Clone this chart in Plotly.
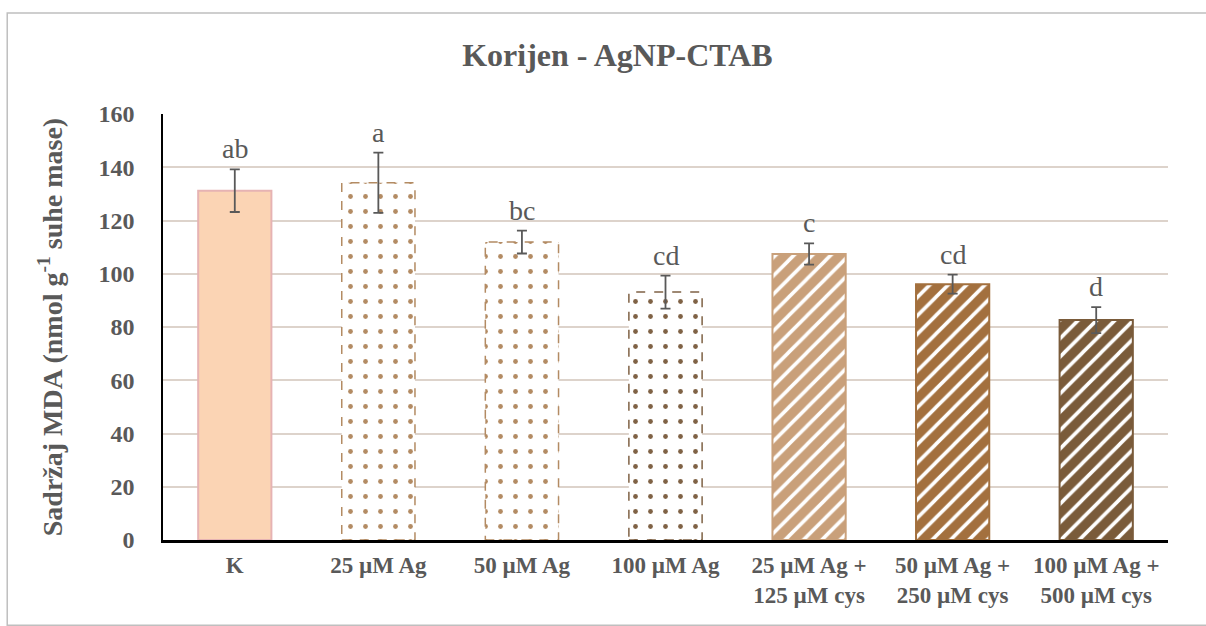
import plotly.graph_objects as go

categories = ["K", "25 µM Ag", "50 µM Ag", "100 µM Ag",
              "25 µM Ag +<br>125 µM cys", "50 µM Ag +<br>250 µM cys", "100 µM Ag +<br>500 µM cys"]
values = [131.2, 134.2, 111.9, 93.1, 107.4, 96.1, 82.6]
errors = [8.0, 11.3, 4.3, 6.2, 4.0, 3.6, 4.9]
letters = ["ab", "a", "bc", "cd", "c", "cd", "d"]
y_ticks = [0, 20, 40, 60, 80, 100, 120, 140, 160]

fill_colors = ["#FBD4B4", "white", "white", "white", "#C9A07A", "#A3703E", "#7A5B3A"]
pattern_shapes = ["", ".", ".", ".", "/", "/", "/"]
pattern_fg = ["", "#B38B63", "#B38B63", "#7F6245", "white", "white", "white"]
line_colors = ["#E6B3B3", "#B38B63", "#B38B63", "#7F6245", "#C9A07A", "#A3703E", "#7A5B3A"]
dashed = [False, True, True, True, False, False, False]

FONT = "Liberation Serif, Times New Roman, serif"
TXT = "#595959"
BAR_W = 0.51

fig = go.Figure()
for i, cat in enumerate(categories):
    pat = dict(shape=pattern_shapes[i])
    if pattern_shapes[i] == ".":
        pat.update(fgcolor=pattern_fg[i], bgcolor="white", size=15, solidity=0.08, fillmode="replace")
    elif pattern_shapes[i] == "/":
        pat.update(fgcolor=pattern_fg[i], bgcolor=fill_colors[i], size=13, solidity=0.28, fillmode="replace")
    fig.add_trace(go.Bar(
        x=[i], y=[values[i]], width=BAR_W,
        marker=dict(color=fill_colors[i], pattern=pat,
                    line=dict(color=line_colors[i], width=0 if dashed[i] else 2)),
        error_y=dict(type="data", array=[errors[i]], visible=True,
                     color="#595959", thickness=1.8, width=5),
        showlegend=False, hoverinfo="skip",
    ))
    if dashed[i]:
        fig.add_shape(type="rect", xref="x", yref="y",
                      x0=i - BAR_W / 2, x1=i + BAR_W / 2, y0=0, y1=values[i],
                      line=dict(color=line_colors[i], width=1.5, dash="dash"))
    fig.add_annotation(x=i, y=values[i] + errors[i], text=letters[i], showarrow=False,
                       xref="x", yref="y", yanchor="bottom", yshift=3,
                       font=dict(family=FONT, size=28, color=TXT))

# chart outer border
fig.add_shape(type="rect", xref="paper", yref="paper", x0=-0.155, x1=1.185, y0=-0.2, y1=1.237,
              line=dict(color="#BFBFBF", width=1.5), layer="below")

fig.update_layout(
    width=1206, height=626,
    margin=dict(l=163, r=38, t=114, b=86),
    paper_bgcolor="white", plot_bgcolor="white",
    title=dict(text="<b>Korijen - AgNP-CTAB</b>", x=0.512, xanchor="center", y=0.912, yanchor="middle",
               xref="container",
               font=dict(family=FONT, size=32, color=TXT)),
    font=dict(family=FONT, color=TXT),
    bargap=0.49,
)
fig.update_xaxes(
    range=[-0.5, 6.5],
    tickmode="array", tickvals=list(range(len(categories))),
    ticktext=["<b>" + c + "</b>" for c in categories],
    tickfont=dict(family=FONT, size=23, color=TXT),
    showline=True, linecolor="black", linewidth=2.5,
    showgrid=False, ticks="", ticklabelstandoff=3,
)
fig.update_yaxes(
    range=[0, 160], tickmode="array", tickvals=y_ticks,
    ticktext=["<b>%d</b>" % v for v in y_ticks],
    tickfont=dict(family=FONT, size=24, color=TXT),
    showline=True, linecolor="black", linewidth=1.5,
    showgrid=True, gridcolor="#DDD3CB", gridwidth=1.5,
    zeroline=False, ticks="", ticklabelstandoff=22,
    title=dict(text="<b>Sadržaj MDA (nmol g<sup>-1</sup> suhe mase)</b>",
               font=dict(family=FONT, size=28, color=TXT), standoff=28),
)

fig.write_html("out.html")
